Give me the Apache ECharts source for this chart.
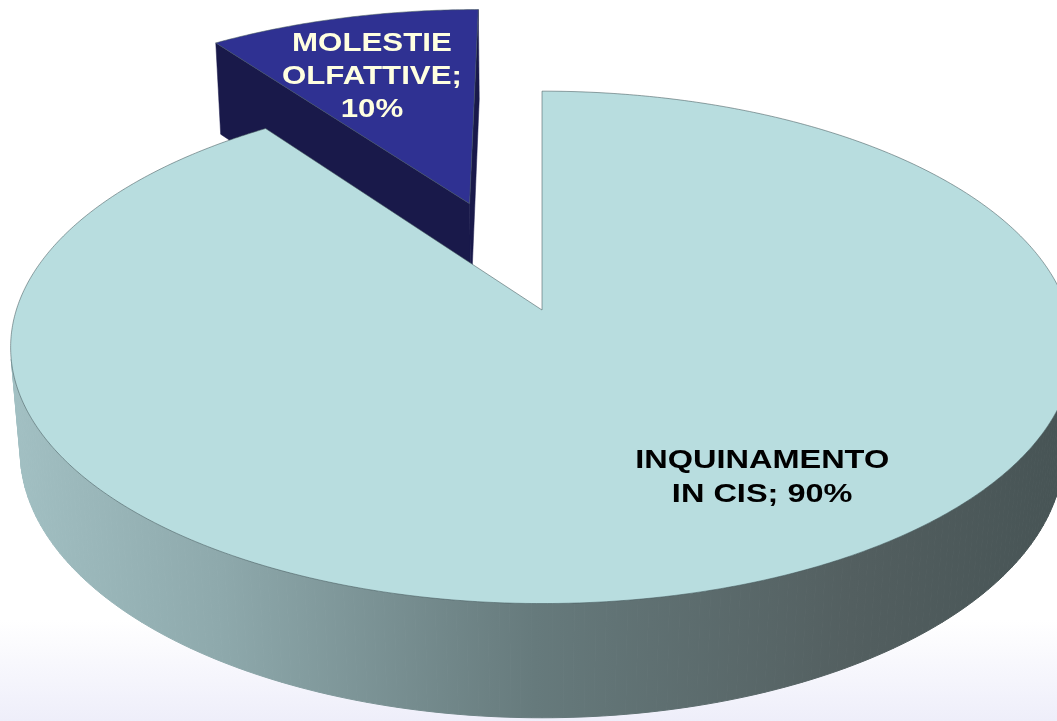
<!DOCTYPE html>
<html>
<head>
<meta charset="utf-8">
<title>Segnalazioni</title>
<script src="https://cdn.jsdelivr.net/npm/echarts@6/dist/echarts.min.js"></script>
<style>
    html, body { margin: 0; padding: 0; background: #fff; }
    #chartsmain { width: 1057px; height: 721px; }
</style>
</head>
<body>
<div id="chartsmain"></div>
<script>
    // dati
    var categories = ['INQUINAMENTO IN CIS', 'MOLESTIE OLFATTIVE'];
    var values = [90, 10];

    // aspetto delle fette
    var explode = [0, 0.475];
    var topColors = ['#B8DDDF', '#2F3192'];
    var cutColors = ['#8FAFB1', '#19194A'];
    var labelColors = ['#000000', '#FFFFE0'];
    var labelSize = [26, 25];
    var labelSep = ['; ', ';\n'];
    var labelShift = [-14, -2];     // gradi rispetto alla bisettrice
    var labelRadius = [0.72, 0.665];

    // "camera" per la finta vista 3D
    var CX = 542, CY = 310, F = 3170, DIST = 6.03;
    var SINP = 0.477, COSP = 0.879, HGT = 0.227;

    function proj(x, y, z) {
        var depth = DIST - y * SINP - z * COSP;
        var u = y * COSP - z * SINP;
        return [CX + F * x / depth, CY - F * u / depth];
    }
    function facing(nx, nz, px, py, pz) {
        var cx = 0 - px, cy = DIST * SINP - py, cz = DIST * COSP - pz;
        return nx * cx + nz * cz > 0;
    }

    var total = values.reduce(function (s, v) { return s + v; }, 0);
    var starts = [], acc = 0;
    values.forEach(function (v) { starts.push(acc / total * 2 * Math.PI); acc += v; });

    var sideFill = {
        type: 'linear', x: 10, y: 0, x2: 1060, y2: 0, global: true,
        colorStops: [
            {offset: 0, color: '#A2C0C3'},
            {offset: 0.2, color: '#8EA9AC'},
            {offset: 0.5, color: '#667A7C'},
            {offset: 0.8, color: '#535F60'},
            {offset: 1, color: '#475455'}
        ]
    };

    function renderItem(params, api) {
        var i = params.dataIndex;
        var a0 = starts[i];
        var a1 = a0 + api.value(0) / total * 2 * Math.PI;
        var mid = (a0 + a1) / 2;
        var ox = explode[i] * Math.sin(mid), oz = -explode[i] * Math.cos(mid);
        function pt(a, r, y) {
            return proj(ox + r * Math.sin(a), y, oz - r * Math.cos(a));
        }
        // le fette piu lontane vanno disegnate prima
        var base = Math.round(200 + (oz - Math.cos(mid) * 0.5) * 50);
        var children = [];
        var n = Math.max(8, Math.ceil((a1 - a0) / (Math.PI / 180)));
        var k, t0, t1, tm;

        // parete esterna
        for (k = 0; k < n; k++) {
            t0 = a0 + (a1 - a0) * k / n;
            t1 = a0 + (a1 - a0) * (k + 1) / n;
            tm = (t0 + t1) / 2;
            if (!facing(Math.sin(tm), -Math.cos(tm), ox + Math.sin(tm), -HGT / 2, oz - Math.cos(tm))) continue;
            children.push({
                type: 'polygon', z2: base,
                shape: {points: [pt(t0, 1, 0), pt(t1, 1, 0), pt(t1, 1, -HGT), pt(t0, 1, -HGT)]},
                style: {fill: sideFill, stroke: sideFill, lineWidth: 1}
            });
        }

        // facce di taglio
        [[a0, -1], [a1, 1]].forEach(function (c) {
            var a = c[0], s = c[1];
            var nx = s * Math.cos(a), nz = s * Math.sin(a);
            if (!facing(nx, nz, ox + 0.5 * Math.sin(a), -HGT / 2, oz - 0.5 * Math.cos(a))) return;
            children.push({
                type: 'polygon', z2: base + 1,
                shape: {points: [pt(a, 0, 0), pt(a, 1, 0), pt(a, 1, -HGT), pt(a, 0, -HGT)]},
                style: {fill: cutColors[i], stroke: cutColors[i], lineWidth: 0.5}
            });
        });

        // faccia superiore
        var pts = [pt(0, 0, 0)];
        for (k = 0; k <= n * 2; k++) {
            pts.push(pt(a0 + (a1 - a0) * k / (n * 2), 1, 0));
        }
        children.push({
            type: 'polygon', z2: base + 2,
            shape: {points: pts},
            style: {fill: topColors[i], stroke: 'rgba(70,90,92,0.55)', lineWidth: 1}
        });

        // etichetta
        var la = mid + labelShift[i] * Math.PI / 180;
        var lp = pt(la, labelRadius[i], 0);
        var name = categories[i].replace(' ', '\n');
        children.push({
            type: 'text', z2: 1000,
            x: lp[0], y: lp[1], scaleX: 1.25,
            style: {
                text: name + labelSep[i] + api.value(0) + '%',
                fill: labelColors[i],
                fontFamily: 'Liberation Sans, Arial, sans-serif',
                fontWeight: 'bold',
                fontSize: labelSize[i],
                lineHeight: labelSize[i] + 8,
                align: 'center',
                verticalAlign: 'middle'
            }
        });

        return {type: 'group', children: children};
    }

    var chart = echarts.init(document.getElementById('chartsmain'));
    var option = {
        animation: false,
        graphic: [{
            type: 'rect', z: -10,
            shape: {x: 0, y: 0, width: 1057, height: 721},
            style: {
                fill: {
                    type: 'linear', x: 0, y: 0, x2: 0, y2: 1,
                    colorStops: [
                        {offset: 0, color: '#FFFFFF'},
                        {offset: 0.86, color: '#FFFFFF'},
                        {offset: 1, color: '#EEEEFA'}
                    ]
                }
            }
        }],
        series: [{
            type: 'custom',
            coordinateSystem: 'none',
            renderItem: renderItem,
            data: values.map(function (v, i) { return {name: categories[i], value: [v]}; })
        }]
    };
    chart.setOption(option);
</script>
</body>
</html>
